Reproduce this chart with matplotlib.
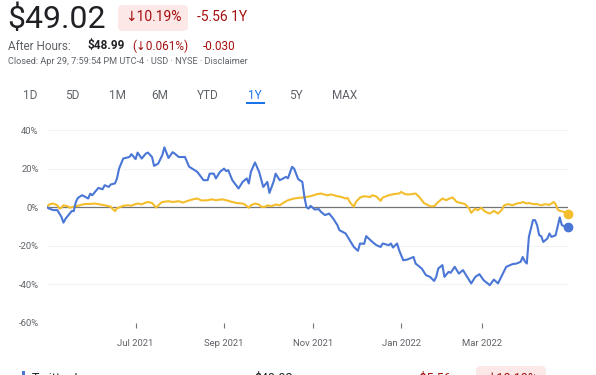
"""
Google Finance style 1Y comparison chart: Twitter vs. index (% change).
"""

import matplotlib
matplotlib.use('Agg')
import matplotlib.pyplot as plt
from matplotlib.patches import FancyBboxPatch, Rectangle

plt.rcParams['font.family'] = ['Roboto', 'DejaVu Sans']
plt.rcParams['axes.unicode_minus'] = False

# trading-session index (0 = Apr 29 2021) and % change
twtr_idx = [0, 1, 3, 5, 6, 7, 8, 9, 11, 12, 13, 14, 15, 17, 18, 20, 21, 22, 24,
            25, 27, 28, 30, 31, 33, 34, 35, 37, 38, 40, 41, 43, 44, 46, 48, 49,
            51, 52, 54, 56, 57, 59, 61, 62, 64, 67, 69, 73, 76, 78, 79, 81, 82,
            84, 86, 87, 88, 90, 93, 95, 97, 98, 99, 101, 103, 105, 107, 108,
            110, 111, 113, 114, 116, 117, 119, 120, 122, 124, 125, 126, 127,
            128, 130, 132, 133, 135, 137, 139, 141, 142, 145, 147, 149, 151,
            152, 154, 155, 158, 160, 162, 163, 166, 167, 168, 170, 171, 173,
            175, 178, 179, 182, 184, 186, 188, 189, 190, 192, 193, 195, 196,
            198, 200, 202, 204, 206, 208, 210, 212, 215, 217, 219, 221, 223,
            226, 228, 230, 231, 232, 233, 234, 236, 237, 238, 239, 240, 241,
            243, 244, 245, 247, 249, 250, 252, 253]
twtr_pct = [0, -0.7, -1.5, -1.5, -3.3, -5, -8, -6, -3.3, -2, -2, 2.7, 4.8, 6.2,
            5.7, 4.5, 7, 6.2, 8.8, 10, 9.3, 11.4, 10.5, 11.8, 12.3, 14.9, 20,
            25.2, 25.5, 26, 27.5, 24.9, 28.3, 25.2, 27.8, 28.3, 26, 21.4, 22.6,
            27, 31, 25.5, 28.5, 27.8, 26, 26, 21, 18.3, 14, 14, 17.4, 17.4,
            14.9, 18.3, 20, 18.7, 19.2, 14, 9.7, 13.1, 14.9, 12.3, 18.3, 23.2,
            18.3, 10.5, 13.1, 7.4, 13.1, 17.4, 14, 14.5, 15.7, 15, 20.9, 20,
            14.5, 13.1, 5.3, 0, -0.7, 0.7, -1.2, -1, -2.4, -4.1, -3.3, -5.9,
            -9.3, -11.9, -13.6, -17.1, -20.6, -22.6, -18.8, -19, -15, -18,
            -19.7, -20.6, -18.8, -19.7, -18.8, -20.9, -18.8, -22.3, -27.5,
            -27.1, -25.8, -29.2, -31.8, -35.2, -36.1, -38.2, -36.1, -31.8, -30,
            -36.1, -33.5, -34, -30.9, -34.4, -32.6, -36.1, -39.5, -36.1, -34.7,
            -37.8, -40.4, -37.5, -39.5, -35.2, -30.9, -29.5, -29.2, -28.3,
            -25.8, -28, -29.2, -15.4, -6.7, -6.7, -9.3, -14.5, -15, -18, -16.2,
            -13.6, -15.4, -14.5, -5.3, -9.3, -10.2, -10.19]

index_idx = [0, 1, 3, 5, 6, 7, 8, 10, 11, 12, 14, 16, 18, 21, 23, 26, 28, 31,
             32, 33, 34, 35, 37, 39, 41, 43, 44, 46, 48, 49, 51, 52, 53, 55, 56,
             59, 61, 64, 66, 69, 71, 73, 75, 78, 80, 82, 85, 87, 90, 92, 95, 96,
             98, 99, 101, 103, 104, 106, 107, 109, 111, 113, 115, 117, 120, 122,
             124, 128, 131, 133, 136, 138, 141, 143, 145, 146, 147, 149, 150,
             152, 154, 157, 158, 160, 162, 163, 166, 168, 171, 172, 174, 176,
             179, 181, 183, 186, 188, 190, 192, 194, 195, 197, 199, 201, 203,
             205, 206, 208, 209, 211, 212, 213, 215, 217, 219, 221, 222, 224,
             226, 228, 230, 231, 233, 234, 236, 238, 240, 242, 244, 246, 247,
             248, 249, 251, 252, 253]
index_pct = [0, 1.4, 1.9, 1, -0.7, -0.3, 1, 0.5, -0.3, 0, 0.5, 1, 1.6, 1.7,
             1.9, 1.4, 1, 0.2, -1, -2, -0.5, -0.2, 0.7, 1, 0.8, 1.6, 1.9, 1.5,
             2.4, 2.7, 2.2, 1, -0.2, 1.9, 2.7, 3.1, 2.7, 3.1, 2.4, 3.5, 4.1,
             4.5, 3.5, 3.6, 4.1, 3.6, 4.1, 3.6, 2.7, 2.2, 1.9, 1.4, -0.3, 1,
             1.9, 1.4, 0.2, 0.2, 1, 0.5, 1.4, 1, 2.4, 3.6, 4.5, 4.8, 5, 5.7,
             6.7, 7.1, 6.2, 6.6, 5.7, 5.3, 4.5, 4.8, 2.7, 0.2, 2.7, 5, 5.7, 5.3,
             6.2, 5.5, 3.3, 5, 6.2, 6.7, 7.1, 7.9, 6.7, 6.6, 7.1, 5, 2.2, 0.5,
             0.5, 2.7, 4.5, 3.6, 4.3, 5, 2.7, 2.2, 1.6, -0.7, -2.9, -0.7, -1.6,
             -0.3, -1.6, -2.4, -3.3, -1.9, -3.3, -1.2, 1, 1.6, 1, 1.9, 2.2, 2.7,
             1.9, 2.2, 1.6, 1.6, 1, 1.6, 1.2, 2.7, 1.6, -1.2, -1.9, -2.4, -3.3,
             -3.3]

tick_idx = [43, 86, 129, 172, 211]
tick_labels = ['Jul 2021', 'Sep 2021', 'Nov 2021', 'Jan 2022', 'Mar 2022']
y_ticks = [-60, -40, -20, 0, 20, 40]
y_labels = ['-60%', '-40%', '-20%', '0%', '20%', '40%']
ranges = ['1D', '5D', '1M', '6M', 'YTD', '1Y', '5Y', 'MAX']

BLUE = '#4a76d6'
YELLOW = '#f3bd2c'
RED = '#a50e0e'
GREY = '#5f6368'
DARK = '#202124'

W, H = 596, 375
fig = plt.figure(figsize=(W / 100, H / 100), dpi=100)


def px(x, y):
    # pixel position (from top-left) -> figure fraction
    return x / W, 1 - y / H


def text(x, y, s, **kw):
    fx, fy = px(x, y)
    fig.text(fx, fy, s, **kw)


# --- header ---
text(7, 19, '$49.02', fontsize=23, color=DARK, va='center')
bx0, by0 = px(118, 31)
bx1, by1 = px(188, 5)
fig.patches.append(FancyBboxPatch((bx0, by0), bx1 - bx0, by1 - by0,
                                  boxstyle='round,pad=0,rounding_size=0.01',
                                  transform=fig.transFigure, fc='#fce8e6',
                                  ec='none'))
text(125, 17, '↓10.19%', fontsize=10, color=RED, va='center')
text(197, 17, '-5.56 1Y', fontsize=10, color=RED, va='center')

text(8, 46, 'After Hours:', fontsize=8.5, color=GREY, va='center')
text(88, 46, '$48.99', fontsize=8.5, color=DARK, va='center', weight='bold')
text(132, 46, '(↓0.061%)', fontsize=8.5, color=RED, va='center')
text(203, 46, '-0.030', fontsize=8.5, color=RED, va='center')
text(8, 62, 'Closed: Apr 29, 7:59:54 PM UTC-4 · USD · NYSE · Disclaimer',
     fontsize=6.6, color=GREY, va='center')

tab_x = [30, 72, 117, 160, 208, 255, 296, 345]
for lbl, tx in zip(ranges, tab_x):
    c = '#1a73e8' if lbl == '1Y' else GREY
    text(tx, 95, lbl, fontsize=8.5, color=c, va='center', ha='center')
ux0, uy0 = px(246, 104)
ux1, uy1 = px(265, 102)
fig.patches.append(Rectangle((ux0, uy0), ux1 - ux0, uy1 - uy0,
                             transform=fig.transFigure, fc='#1a73e8',
                             ec='none'))

# --- chart ---
left, right = 47, 568
top, bottom = 130, 323
ax = fig.add_axes([left / W, 1 - bottom / H, (right - left) / W,
                   (bottom - top) / H])
ax.set_xlim(0, 253)
ax.set_ylim(-60, 40)

for v in y_ticks:
    if v != 0:
        ax.axhline(v, color='#f1f3f4', lw=0.8, zorder=0)
ax.axhline(0, color='#70757a', lw=0.9, zorder=1)

ax.plot(index_idx, index_pct, color=YELLOW, lw=1.5, zorder=2)
ax.plot(twtr_idx, twtr_pct, color=BLUE, lw=1.5, zorder=3)
ax.plot(index_idx[-1], index_pct[-1], 'o', color=YELLOW, ms=6,
        clip_on=False, zorder=4)
ax.plot(twtr_idx[-1], twtr_pct[-1], 'o', color=BLUE, ms=6,
        clip_on=False, zorder=4)

ax.set_yticks(y_ticks)
ax.set_yticklabels(y_labels)
ax.set_xticks(tick_idx)
ax.set_xticklabels(tick_labels)
ax.tick_params(axis='y', length=0, pad=6, labelsize=6.8, labelcolor=GREY)
ax.tick_params(axis='x', length=3.5, width=0.8, color='#70757a', pad=8,
               labelsize=6.8, labelcolor=GREY)
for s in ax.spines.values():
    s.set_visible(False)
ax.patch.set_alpha(0)

# --- legend row (cut off at bottom, as in the screenshot) ---
lx0, ly0 = px(22, 376)
lx1, ly1 = px(25, 371)
fig.patches.append(Rectangle((lx0, ly0), lx1 - lx0, ly1 - ly0,
                             transform=fig.transFigure, fc=BLUE, ec='none'))
rx0, ry0 = px(476, 380)
rx1, ry1 = px(546, 366)
fig.patches.append(FancyBboxPatch((rx0, ry0), rx1 - rx0, ry1 - ry0,
                                  boxstyle='round,pad=0,rounding_size=0.01',
                                  transform=fig.transFigure, fc='#fce8e6',
                                  ec='none'))
text(32, 372, 'Twitter Inc', fontsize=9, color=DARK, va='top')
text(254, 372, '$49.02', fontsize=9, color=DARK, va='top')
text(417, 372, '-$5.56', fontsize=9, color=RED, va='top')
text(486, 372, '↓10.19%', fontsize=9, color=RED, va='top')

fig.savefig('out.png', dpi=100)
